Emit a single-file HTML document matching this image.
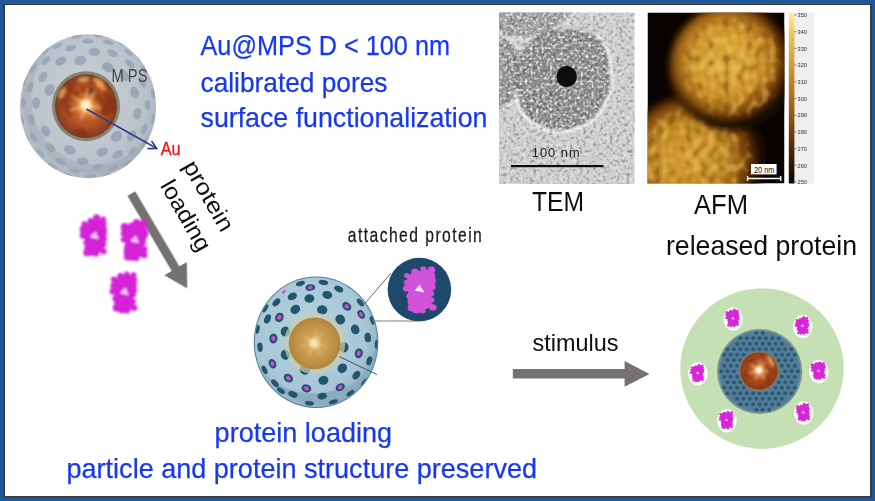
<!DOCTYPE html>
<html>
<head>
<meta charset="utf-8">
<title>Au@MPS protein loading</title>
<style>
html,body{margin:0;padding:0;background:#1f579b;}
body{width:875px;height:501px;overflow:hidden;font-family:"Liberation Sans",sans-serif;}
svg{display:block;}
text{font-family:"Liberation Sans",sans-serif;}
</style>
</head>
<body>
<svg width="875" height="501" viewBox="0 0 875 501">
<defs>
  <filter id="soft" x="-5%" y="-5%" width="110%" height="110%"><feGaussianBlur stdDeviation="0.45"/></filter>

  <filter id="soft2" x="-5%" y="-5%" width="110%" height="110%"><feGaussianBlur stdDeviation="0.6"/></filter>
  <filter id="pblur" x="-20%" y="-20%" width="140%" height="140%"><feGaussianBlur stdDeviation="1.15"/></filter>
  <filter id="temblur" x="-10%" y="-10%" width="120%" height="120%"><feGaussianBlur stdDeviation="1.0"/></filter>
  <filter id="afmblur" x="-10%" y="-10%" width="120%" height="120%"><feGaussianBlur stdDeviation="3.2"/></filter>
  <filter id="tnb" x="0" y="0" width="100%" height="100%"><feGaussianBlur stdDeviation="0.75"/></filter>
  <filter id="temW" x="0" y="0" width="100%" height="100%" color-interpolation-filters="sRGB">
    <feTurbulence type="fractalNoise" baseFrequency="0.3" numOctaves="2" seed="4"/>
    <feColorMatrix type="matrix" values="0 0 0 0 1  0 0 0 0 1  0 0 0 0 1  1.6 0 0 0 -0.8"/>
  </filter>
  <filter id="temD" x="0" y="0" width="100%" height="100%" color-interpolation-filters="sRGB">
    <feTurbulence type="fractalNoise" baseFrequency="0.3" numOctaves="2" seed="4"/>
    <feColorMatrix type="matrix" values="0 0 0 0 0.1  0 0 0 0 0.1  0 0 0 0 0.1  -1.4 0 0 0 0.62"/>
  </filter>
  <filter id="temW2" x="0" y="0" width="100%" height="100%" color-interpolation-filters="sRGB">
    <feTurbulence type="fractalNoise" baseFrequency="0.36" numOctaves="1" seed="11"/>
    <feColorMatrix type="matrix" values="0 0 0 0 1  0 0 0 0 1  0 0 0 0 1  3.4 0 0 0 -1.74"/>
  </filter>
  <filter id="afmtex" x="0" y="0" width="100%" height="100%" color-interpolation-filters="sRGB">
    <feTurbulence type="fractalNoise" baseFrequency="0.13 0.11" numOctaves="1" seed="9"/>
    <feColorMatrix type="matrix" values="0 0 0 0 1  0 0 0 0 0.82  0 0 0 0 0.42  4.5 0 0 0 -2.15"/>
    <feGaussianBlur stdDeviation="0.7"/>
  </filter>
  <filter id="afmtexD" x="0" y="0" width="100%" height="100%" color-interpolation-filters="sRGB">
    <feTurbulence type="fractalNoise" baseFrequency="0.13 0.11" numOctaves="1" seed="9"/>
    <feColorMatrix type="matrix" values="0 0 0 0 0.35  0 0 0 0 0.18  0 0 0 0 0.02  -4.5 0 0 0 2.0"/>
    <feGaussianBlur stdDeviation="0.7"/>
  </filter>
  <mask id="afmmask1" maskUnits="userSpaceOnUse" x="640" y="5" width="150" height="185">
    <g filter="url(#afmblur)"><ellipse cx="732.5" cy="67.5" rx="49" ry="49" fill="#fff"/></g>
  </mask>
  <mask id="afmmask2" maskUnits="userSpaceOnUse" x="640" y="5" width="150" height="185">
    <g filter="url(#afmblur)"><ellipse cx="695" cy="160" rx="57" ry="52" fill="#fff"/></g>
  </mask>
  <clipPath id="temclip"><rect x="499" y="12.5" width="135.5" height="171.5"/></clipPath>
  <clipPath id="afmclip"><rect x="647.5" y="12.5" width="137" height="171"/></clipPath>
  <clipPath id="p1clip"><ellipse cx="88" cy="106.2" rx="68" ry="72"/></clipPath>
  <clipPath id="p1coreclip"><ellipse cx="86" cy="106.2" rx="31" ry="32"/></clipPath>
  <filter id="coreblur" x="-10%" y="-10%" width="120%" height="120%"><feGaussianBlur stdDeviation="1.4"/></filter>
  <clipPath id="p2clip"><ellipse cx="316.1" cy="342.2" rx="61.3" ry="64.8"/></clipPath>
  <clipPath id="p3coreclip"><circle cx="758.9" cy="371" r="18.6"/></clipPath>
  <clipPath id="p2coreclip"><circle cx="314.6" cy="343.4" r="25.8"/></clipPath>
  <radialGradient id="p1g" cx="0.48" cy="0.45" r="0.55">
    <stop offset="0" stop-color="#c9cfd5"/><stop offset="0.75" stop-color="#bcc4cb"/><stop offset="1" stop-color="#adb6c0"/>
  </radialGradient>
  <radialGradient id="p1core" cx="0.5" cy="0.5" r="0.5">
    <stop offset="0" stop-color="#fff0c8"/><stop offset="0.14" stop-color="#eeaa5c"/><stop offset="0.36" stop-color="#c8632c"/><stop offset="0.72" stop-color="#aa4a20"/><stop offset="1" stop-color="#7c3c22"/>
  </radialGradient>
  <radialGradient id="p2g" cx="0.45" cy="0.42" r="0.6">
    <stop offset="0" stop-color="#b7d2e0"/><stop offset="0.75" stop-color="#a8c6d6"/><stop offset="1" stop-color="#8db0c3"/>
  </radialGradient>
  <radialGradient id="p2core" cx="0.5" cy="0.5" r="0.5">
    <stop offset="0" stop-color="#efdcb0"/><stop offset="0.3" stop-color="#cfa358"/><stop offset="0.75" stop-color="#c09146"/><stop offset="1" stop-color="#ad8440"/>
  </radialGradient>
  <radialGradient id="p3core" cx="0.5" cy="0.5" r="0.5">
    <stop offset="0" stop-color="#ffe9c0"/><stop offset="0.16" stop-color="#d8803c"/><stop offset="0.5" stop-color="#b04c1e"/><stop offset="1" stop-color="#8e3c18"/>
  </radialGradient>
  <radialGradient id="afmg1" cx="0.45" cy="0.45" r="0.5">
    <stop offset="0" stop-color="#dca83a"/><stop offset="0.5" stop-color="#cf982f"/><stop offset="0.74" stop-color="#a86c18"/><stop offset="0.9" stop-color="#552a05"/><stop offset="1" stop-color="#140700"/>
  </radialGradient>
  <radialGradient id="afmg2" cx="0.45" cy="0.5" r="0.5">
    <stop offset="0" stop-color="#d39c34"/><stop offset="0.5" stop-color="#c28a26"/><stop offset="0.74" stop-color="#965c12"/><stop offset="0.9" stop-color="#4a2404"/><stop offset="1" stop-color="#140700"/>
  </radialGradient>
  <linearGradient id="cbar" x1="0" y1="0" x2="0" y2="1">
    <stop offset="0" stop-color="#fbf0a0"/><stop offset="0.12" stop-color="#e9c85a"/><stop offset="0.35" stop-color="#c99229"/><stop offset="0.6" stop-color="#95590f"/><stop offset="0.8" stop-color="#4f2704"/><stop offset="1" stop-color="#0c0400"/>
  </linearGradient>
</defs>

<!-- FRAME -->
<rect x="0" y="0" width="875" height="501" fill="#1f579b"/>
<rect x="3" y="4" width="869" height="493.5" fill="#3f3b39"/>
<rect x="5" y="5" width="865" height="491" fill="#ffffff"/>

<!-- TEXT-BLUE -->
<g fill="#1838f4" stroke="#1838f4" stroke-width="0.25" font-size="27.5" filter="url(#soft)">
  <text x="200.5" y="54.5" textLength="249.5" lengthAdjust="spacingAndGlyphs">Au@MPS D &lt; 100 nm</text>
  <text x="200.5" y="91.6" font-size="28" textLength="187" lengthAdjust="spacingAndGlyphs">calibrated pores</text>
  <text x="200.5" y="127.2" font-size="28" textLength="287" lengthAdjust="spacingAndGlyphs">surface functionalization</text>
  <text x="214.6" y="442" textLength="177.5" lengthAdjust="spacingAndGlyphs" font-size="27.6">protein loading</text>
  <text x="66.5" y="478.4" textLength="470.5" lengthAdjust="spacingAndGlyphs" font-size="27.6">particle and protein structure preserved</text>
</g>

<!-- TEXT-BLACK -->
<g fill="#111" filter="url(#soft)">
  <text x="532" y="211" font-size="28" textLength="52" lengthAdjust="spacingAndGlyphs">TEM</text>
  <text x="694" y="214" font-size="28" textLength="54" lengthAdjust="spacingAndGlyphs">AFM</text>
  <text x="666" y="254.5" font-size="27.5" textLength="191" lengthAdjust="spacingAndGlyphs">released protein</text>
  <text x="532.6" y="351.2" font-size="23.2" textLength="86" lengthAdjust="spacingAndGlyphs">stimulus</text>
  <text transform="translate(347.8,241.6) scale(0.8,1)" font-size="19.6" fill="#1a1a1a" stroke="#1a1a1a" stroke-width="0.25" textLength="167.5" lengthAdjust="spacing">attached protein</text>
</g>

<!-- ARROWS -->
<g fill="#767171" filter="url(#soft)">
  <path d="M512.8 369 H624.6 V361 L649.5 374 L624.6 386.8 V378.6 H512.8 Z"/>
  <g transform="translate(131.4,193.7) rotate(59.5)">
    <path d="M0 -4.5 H87 V-13 L110 0 L87 13 V4.5 H0 Z"/>
  </g>
</g>

<!-- ROTATED-TEXT -->
<g fill="#111" font-size="23" filter="url(#soft)">
  <text transform="translate(182.5,165.9) rotate(60)" textLength="78" lengthAdjust="spacingAndGlyphs">protein</text>
  <text transform="translate(159.8,185.6) rotate(60)" textLength="78" lengthAdjust="spacingAndGlyphs">loading</text>
</g>

<!-- PARTICLE1 -->

<g filter="url(#soft2)">
  <ellipse cx="88.0" cy="106.2" rx="68" ry="72" fill="url(#p1g)"/>
  <g clip-path="url(#p1clip)">
  <ellipse cx="80.3" cy="60.5" rx="4.7" ry="6.0" transform="rotate(-100 80.3 60.5)" fill="#9ba8ba" opacity="1.0"/>
<ellipse cx="49.6" cy="90.0" rx="4.9" ry="6.1" transform="rotate(-158 49.6 90.0)" fill="#9ba8ba" opacity="1.0"/>
<ellipse cx="107.9" cy="67.4" rx="4.8" ry="6.1" transform="rotate(-62 107.9 67.4)" fill="#9ba8ba" opacity="1.0"/>
<ellipse cx="60.8" cy="61.1" rx="4.0" ry="5.9" transform="rotate(-122 60.8 61.1)" fill="#9ba8ba" opacity="1.0"/>
<ellipse cx="94.4" cy="51.9" rx="3.9" ry="5.9" transform="rotate(-83 94.4 51.9)" fill="#9ba8ba" opacity="1.0"/>
<ellipse cx="42.9" cy="76.8" rx="3.8" ry="5.8" transform="rotate(-148 42.9 76.8)" fill="#9ba8ba" opacity="1.0"/>
<ellipse cx="123.9" cy="75.6" rx="4.5" ry="6.0" transform="rotate(-39 123.9 75.6)" fill="#9ba8ba" opacity="1.0"/>
<ellipse cx="70.6" cy="48.1" rx="3.1" ry="5.7" transform="rotate(-107 70.6 48.1)" fill="#9ba8ba" opacity="1.0"/>
<ellipse cx="36.1" cy="103.1" rx="3.9" ry="5.9" transform="rotate(-177 36.1 103.1)" fill="#9ba8ba" opacity="1.0"/>
<ellipse cx="112.5" cy="53.2" rx="3.4" ry="5.7" transform="rotate(-64 112.5 53.2)" fill="#9ba8ba" opacity="1.0"/>
<ellipse cx="45.9" cy="60.6" rx="2.8" ry="5.6" transform="rotate(-134 45.9 60.6)" fill="#9ba8ba" opacity="1.0"/>
<ellipse cx="134.6" cy="92.3" rx="4.3" ry="6.0" transform="rotate(-16 134.6 92.3)" fill="#9ba8ba" opacity="1.0"/>
<ellipse cx="45.5" cy="131.0" rx="4.3" ry="5.9" transform="rotate(151 45.5 131.0)" fill="#9ba8ba" opacity="1.0"/>
<ellipse cx="87.8" cy="41.2" rx="2.5" ry="5.5" transform="rotate(-90 87.8 41.2)" fill="#9ba8ba" opacity="1.0"/>
<ellipse cx="116.5" cy="136.4" rx="5.0" ry="6.1" transform="rotate(46 116.5 136.4)" fill="#9ba8ba" opacity="1.0"/>
<ellipse cx="30.4" cy="87.1" rx="2.8" ry="5.6" transform="rotate(-162 30.4 87.1)" fill="#9ba8ba" opacity="1.0"/>
<ellipse cx="129.8" cy="63.8" rx="3.1" ry="5.7" transform="rotate(-44 129.8 63.8)" fill="#9ba8ba" opacity="1.0"/>
<ellipse cx="69.9" cy="149.9" rx="4.5" ry="6.0" transform="rotate(113 69.9 149.9)" fill="#9ba8ba" opacity="1.0"/>
<ellipse cx="57.7" cy="46.0" rx="1.9" ry="5.4" transform="rotate(-118 57.7 46.0)" fill="#9ba8ba" opacity="1.0"/>
<ellipse cx="137.4" cy="113.6" rx="4.1" ry="5.9" transform="rotate(8 137.4 113.6)" fill="#9ba8ba" opacity="1.0"/>
<ellipse cx="31.4" cy="119.8" rx="3.2" ry="5.7" transform="rotate(167 31.4 119.8)" fill="#9ba8ba" opacity="1.0"/>
<ellipse cx="108.3" cy="42.3" rx="2.1" ry="5.4" transform="rotate(-72 108.3 42.3)" fill="#9ba8ba" opacity="1.0"/>
<ellipse cx="102.2" cy="152.2" rx="4.5" ry="6.0" transform="rotate(72 102.2 152.2)" fill="#9ba8ba" opacity="1.0"/>
<ellipse cx="33.2" cy="68.4" rx="1.9" ry="5.3" transform="rotate(-146 33.2 68.4)" fill="#9ba8ba" opacity="1.0"/>
<ellipse cx="142.4" cy="82.0" rx="3.0" ry="5.7" transform="rotate(-23 142.4 82.0)" fill="#9ba8ba" opacity="1.0"/>
<ellipse cx="50.5" cy="147.8" rx="3.6" ry="5.8" transform="rotate(133 50.5 147.8)" fill="#9ba8ba" opacity="1.0"/>
<ellipse cx="76.4" cy="36.8" rx="1.8" ry="5.2" transform="rotate(-100 76.4 36.8)" fill="#9ba8ba" opacity="1.0"/>
<ellipse cx="131.6" cy="135.7" rx="3.9" ry="5.9" transform="rotate(33 131.6 135.7)" fill="#9ba8ba" opacity="1.0"/>
<ellipse cx="23.5" cy="102.3" rx="2.1" ry="5.4" transform="rotate(-177 23.5 102.3)" fill="#9ba8ba" opacity="1.0"/>
<ellipse cx="128.4" cy="52.3" rx="1.9" ry="5.4" transform="rotate(-52 128.4 52.3)" fill="#9ba8ba" opacity="1.0"/>
<ellipse cx="82.6" cy="161.2" rx="3.8" ry="5.8" transform="rotate(96 82.6 161.2)" fill="#9ba8ba" opacity="1.0"/>
<ellipse cx="44.5" cy="51.0" rx="1.8" ry="5.1" transform="rotate(-129 44.5 51.0)" fill="#9ba8ba" opacity="1.0"/>
<ellipse cx="147.7" cy="105.0" rx="2.9" ry="5.6" transform="rotate(-1 147.7 105.0)" fill="#9ba8ba" opacity="1.0"/>
<ellipse cx="33.4" cy="137.2" rx="2.5" ry="5.5" transform="rotate(151 33.4 137.2)" fill="#9ba8ba" opacity="1.0"/>
<ellipse cx="98.8" cy="35.5" rx="1.8" ry="5.1" transform="rotate(-81 98.8 35.5)" fill="#9ba8ba" opacity="1.0"/>
<ellipse cx="117.7" cy="154.5" rx="3.6" ry="5.8" transform="rotate(57 117.7 154.5)" fill="#9ba8ba" opacity="1.0"/>
<ellipse cx="23.8" cy="81.6" rx="1.8" ry="5.1" transform="rotate(-160 23.8 81.6)" fill="#9ba8ba" opacity="1.0"/>
<ellipse cx="144.2" cy="70.1" rx="1.9" ry="5.3" transform="rotate(-32 144.2 70.1)" fill="#9ba8ba" opacity="1.0"/>
<ellipse cx="60.9" cy="161.6" rx="2.9" ry="5.6" transform="rotate(117 60.9 161.6)" fill="#9ba8ba" opacity="1.0"/>
<ellipse cx="144.3" cy="129.4" rx="2.8" ry="5.6" transform="rotate(22 144.3 129.4)" fill="#9ba8ba" opacity="1.0"/>
<ellipse cx="22.1" cy="119.7" rx="1.8" ry="5.2" transform="rotate(169 22.1 119.7)" fill="#9ba8ba" opacity="1.0"/>
<ellipse cx="121.4" cy="43.0" rx="1.8" ry="5.0" transform="rotate(-61 121.4 43.0)" fill="#9ba8ba" opacity="1.0"/>
<ellipse cx="97.8" cy="167.1" rx="3.0" ry="5.6" transform="rotate(80 97.8 167.1)" fill="#9ba8ba" opacity="1.0"/>
<ellipse cx="153.1" cy="93.6" rx="1.9" ry="5.3" transform="rotate(-11 153.1 93.6)" fill="#9ba8ba" opacity="1.0"/>
<ellipse cx="40.9" cy="153.2" rx="1.9" ry="5.4" transform="rotate(136 40.9 153.2)" fill="#9ba8ba" opacity="1.0"/>
<ellipse cx="132.4" cy="151.4" rx="2.6" ry="5.5" transform="rotate(44 132.4 151.4)" fill="#9ba8ba" opacity="1.0"/>
<ellipse cx="140.6" cy="59.0" rx="1.7" ry="5.0" transform="rotate(-41 140.6 59.0)" fill="#9ba8ba" opacity="1.0"/>
<ellipse cx="75.0" cy="171.2" rx="2.2" ry="5.5" transform="rotate(102 75.0 171.2)" fill="#9ba8ba" opacity="1.0"/>
<ellipse cx="153.2" cy="119.3" rx="1.9" ry="5.3" transform="rotate(11 153.2 119.3)" fill="#9ba8ba" opacity="1.0"/>
<ellipse cx="26.0" cy="137.2" rx="1.8" ry="5.1" transform="rotate(154 26.0 137.2)" fill="#9ba8ba" opacity="1.0"/>
<ellipse cx="113.6" cy="167.6" rx="2.1" ry="5.4" transform="rotate(67 113.6 167.6)" fill="#9ba8ba" opacity="1.0"/>
<ellipse cx="153.3" cy="81.4" rx="1.7" ry="5.0" transform="rotate(-20 153.3 81.4)" fill="#9ba8ba" opacity="1.0"/>
<ellipse cx="52.8" cy="166.2" rx="1.8" ry="5.2" transform="rotate(121 52.8 166.2)" fill="#9ba8ba" opacity="1.0"/>
<ellipse cx="144.5" cy="143.7" rx="1.8" ry="5.3" transform="rotate(33 144.5 143.7)" fill="#9ba8ba" opacity="1.0"/>
<ellipse cx="90.8" cy="175.9" rx="1.8" ry="5.3" transform="rotate(88 90.8 175.9)" fill="#9ba8ba" opacity="1.0"/>
<ellipse cx="157.5" cy="107.3" rx="1.7" ry="5.0" transform="rotate(1 157.5 107.3)" fill="#9ba8ba" opacity="1.0"/>
<ellipse cx="128.1" cy="163.4" rx="1.8" ry="5.2" transform="rotate(54 128.1 163.4)" fill="#9ba8ba" opacity="1.0"/>
<ellipse cx="67.5" cy="174.9" rx="1.8" ry="5.0" transform="rotate(107 67.5 174.9)" fill="#9ba8ba" opacity="1.0"/>
<ellipse cx="106.7" cy="175.6" rx="1.8" ry="5.0" transform="rotate(74 106.7 175.6)" fill="#9ba8ba" opacity="1.0"/>
  <ellipse cx="95.0" cy="97.2" rx="68" ry="72" fill="none" stroke="#98a2ad" stroke-width="9" opacity="0.35"/>
  </g>
  <ellipse cx="86" cy="106.2" rx="34" ry="35" fill="#868371"/>
  <ellipse cx="86" cy="106.2" rx="31" ry="32" fill="url(#p1core)"/>
  <g clip-path="url(#p1coreclip)" filter="url(#coreblur)">
    <ellipse cx="68.6" cy="89.2" rx="6.8" ry="3.7" transform="rotate(314 68.6 89.2)" fill="#7a2a0c" opacity="0.55"/><ellipse cx="93.6" cy="80.2" rx="6.8" ry="3.7" transform="rotate(376 93.6 80.2)" fill="#7a2a0c" opacity="0.55"/><ellipse cx="84.3" cy="79.4" rx="6.8" ry="3.7" transform="rotate(356 84.3 79.4)" fill="#7a2a0c" opacity="0.55"/><ellipse cx="106.1" cy="109.9" rx="6.8" ry="3.7" transform="rotate(100 106.1 109.9)" fill="#7a2a0c" opacity="0.55"/><ellipse cx="107.6" cy="98.2" rx="6.8" ry="3.7" transform="rotate(430 107.6 98.2)" fill="#7a2a0c" opacity="0.55"/><ellipse cx="98.6" cy="97.1" rx="6.8" ry="3.7" transform="rotate(414 98.6 97.1)" fill="#7a2a0c" opacity="0.55"/><ellipse cx="68.9" cy="109.6" rx="6.8" ry="3.7" transform="rotate(259 68.9 109.6)" fill="#7a2a0c" opacity="0.55"/><ellipse cx="64.9" cy="100.2" rx="6.8" ry="3.7" transform="rotate(286 64.9 100.2)" fill="#7a2a0c" opacity="0.55"/><ellipse cx="102.9" cy="107.6" rx="6.8" ry="3.7" transform="rotate(95 102.9 107.6)" fill="#7a2a0c" opacity="0.55"/><ellipse cx="81.1" cy="132.5" rx="6.8" ry="3.7" transform="rotate(191 81.1 132.5)" fill="#7a2a0c" opacity="0.55"/><ellipse cx="87.6" cy="90.1" rx="6.8" ry="3.7" transform="rotate(366 87.6 90.1)" fill="#7a2a0c" opacity="0.55"/><ellipse cx="90.6" cy="91.0" rx="6.8" ry="3.7" transform="rotate(377 90.6 91.0)" fill="#7a2a0c" opacity="0.55"/><ellipse cx="74.4" cy="95.6" rx="6.8" ry="3.7" transform="rotate(312 74.4 95.6)" fill="#7a2a0c" opacity="0.55"/><ellipse cx="112.1" cy="106.5" rx="6.8" ry="3.7" transform="rotate(91 112.1 106.5)" fill="#7a2a0c" opacity="0.55"/><ellipse cx="100.9" cy="86.1" rx="6.2" ry="2.8" transform="rotate(37 100.9 86.1)" fill="#f6b060" opacity="0.75"/><ellipse cx="62.1" cy="92.8" rx="6.2" ry="2.8" transform="rotate(-61 62.1 92.8)" fill="#f6b060" opacity="0.75"/><ellipse cx="98.4" cy="81.4" rx="6.2" ry="2.8" transform="rotate(27 98.4 81.4)" fill="#f6b060" opacity="0.75"/><ellipse cx="83.7" cy="79.6" rx="6.2" ry="2.8" transform="rotate(-5 83.7 79.6)" fill="#f6b060" opacity="0.75"/>
    <g stroke="#ffd98a" stroke-width="2" opacity="0.6" stroke-linecap="round">
      <path d="M86 105 l-13 -8 M86 105 l9 -13 M86 105 l14 3 M86 105 l-5 14 M86 105 l-15 5 M86 105 l1 -16 M86 105 l8 12"/>
    </g>
    <circle cx="85.8" cy="104.9" r="5" fill="#fff3c8"/>
  </g>
</g>
<g filter="url(#soft)">
  <path d="M86.4 109 L156 148" stroke="#2b3f8c" stroke-width="1.6" fill="none"/>
  <path d="M147.5 148.6 L156.7 148.4 L151.5 141" stroke="#2b3f8c" stroke-width="1.6" fill="none"/>
  <text x="111.5" y="82" font-size="17.8" fill="#444" textLength="36" lengthAdjust="spacingAndGlyphs">M PS</text>
  <text x="160.8" y="154.8" font-size="19.2" fill="#fa1212" stroke="#fa1212" stroke-width="0.35" textLength="19.8" lengthAdjust="spacingAndGlyphs">Au</text>
</g>

<!-- PROTEINS -->
<g filter="url(#pblur)"><polygon points="83.8,223.7 90.5,221.1 96.3,218.4 102.9,219.3 103.8,229.1 102.9,238.9 103.8,251.3 96.3,254.0 87.2,252.2 86.3,242.4 83.0,235.3" fill="#d422d6"/><circle cx="84.2" cy="224.1" r="2.8" fill="#d422d6"/><circle cx="90.5" cy="221.0" r="3.0" fill="#d422d6"/><circle cx="96.6" cy="217.9" r="3.6" fill="#d422d6"/><circle cx="103.3" cy="219.2" r="2.7" fill="#d422d6"/><circle cx="102.8" cy="224.1" r="3.8" fill="#d422d6"/><circle cx="103.4" cy="229.6" r="3.7" fill="#d422d6"/><circle cx="102.8" cy="233.4" r="4.0" fill="#d422d6"/><circle cx="103.5" cy="238.7" r="3.4" fill="#d422d6"/><circle cx="103.3" cy="244.5" r="3.0" fill="#d422d6"/><circle cx="103.7" cy="251.3" r="3.0" fill="#d422d6"/><circle cx="96.0" cy="253.7" r="3.0" fill="#d422d6"/><circle cx="91.5" cy="252.5" r="3.3" fill="#d422d6"/><circle cx="87.2" cy="252.4" r="3.9" fill="#d422d6"/><circle cx="87.3" cy="247.8" r="2.9" fill="#d422d6"/><circle cx="86.1" cy="242.7" r="2.8" fill="#d422d6"/><circle cx="83.5" cy="235.2" r="3.7" fill="#d422d6"/><circle cx="83.6" cy="229.3" r="3.9" fill="#d422d6"/><polygon points="90.0,236.9 95.4,231.5 98.8,239.3 94.1,238.3" fill="#f9d0f5"/></g>
<g filter="url(#pblur)"><polygon points="124.2,227.7 130.9,225.1 136.7,222.4 143.3,223.3 144.2,233.1 143.3,242.9 144.2,255.3 136.7,258.0 127.6,256.2 126.7,246.4 123.4,239.3" fill="#d422d6"/><circle cx="124.8" cy="227.2" r="4.1" fill="#d422d6"/><circle cx="131.3" cy="225.4" r="2.8" fill="#d422d6"/><circle cx="136.5" cy="222.5" r="3.6" fill="#d422d6"/><circle cx="143.4" cy="222.9" r="3.5" fill="#d422d6"/><circle cx="143.6" cy="228.5" r="3.3" fill="#d422d6"/><circle cx="144.7" cy="233.1" r="4.1" fill="#d422d6"/><circle cx="143.5" cy="237.4" r="3.3" fill="#d422d6"/><circle cx="143.3" cy="242.7" r="2.7" fill="#d422d6"/><circle cx="144.2" cy="249.1" r="3.2" fill="#d422d6"/><circle cx="143.9" cy="254.8" r="3.5" fill="#d422d6"/><circle cx="136.3" cy="258.0" r="3.1" fill="#d422d6"/><circle cx="132.3" cy="256.7" r="4.1" fill="#d422d6"/><circle cx="127.9" cy="256.5" r="4.0" fill="#d422d6"/><circle cx="127.5" cy="251.7" r="4.0" fill="#d422d6"/><circle cx="127.3" cy="247.0" r="3.2" fill="#d422d6"/><circle cx="123.7" cy="239.6" r="2.9" fill="#d422d6"/><circle cx="123.9" cy="233.5" r="3.3" fill="#d422d6"/><polygon points="130.4,240.9 135.8,235.5 139.2,243.3 134.5,242.3" fill="#f9d0f5"/></g>
<g filter="url(#pblur)"><polygon points="113.8,279.7 120.5,277.1 126.3,274.4 132.9,275.3 133.8,285.1 132.9,294.9 133.8,307.3 126.3,310.0 117.2,308.2 116.3,298.4 113.0,291.3" fill="#d422d6"/><circle cx="113.9" cy="279.6" r="3.0" fill="#d422d6"/><circle cx="120.6" cy="276.5" r="3.5" fill="#d422d6"/><circle cx="126.7" cy="274.1" r="2.7" fill="#d422d6"/><circle cx="133.5" cy="275.3" r="3.0" fill="#d422d6"/><circle cx="133.3" cy="280.4" r="3.9" fill="#d422d6"/><circle cx="133.9" cy="285.5" r="2.9" fill="#d422d6"/><circle cx="133.6" cy="290.2" r="3.4" fill="#d422d6"/><circle cx="133.2" cy="295.0" r="2.7" fill="#d422d6"/><circle cx="132.8" cy="301.5" r="3.1" fill="#d422d6"/><circle cx="134.0" cy="307.8" r="3.3" fill="#d422d6"/><circle cx="126.8" cy="309.9" r="3.7" fill="#d422d6"/><circle cx="121.7" cy="309.6" r="3.8" fill="#d422d6"/><circle cx="116.7" cy="307.8" r="3.9" fill="#d422d6"/><circle cx="117.3" cy="303.2" r="3.0" fill="#d422d6"/><circle cx="116.1" cy="298.4" r="3.6" fill="#d422d6"/><circle cx="112.8" cy="291.4" r="3.2" fill="#d422d6"/><circle cx="113.9" cy="285.7" r="3.5" fill="#d422d6"/><polygon points="120.0,292.9 125.4,287.5 128.8,295.3 124.1,294.3" fill="#f9d0f5"/></g>
<!-- PARTICLE2 -->

<g filter="url(#soft2)">
  <ellipse cx="316.1" cy="342.2" rx="62.3" ry="65.8" fill="#4f7f96"/>
  <ellipse cx="316.1" cy="342.2" rx="61.3" ry="64.8" fill="url(#p2g)"/>
  <g clip-path="url(#p2clip)">
  <path d="M262 372 Q300 408 352 384 Q380 366 376 318 Q392 372 350 398 Q300 420 262 372 Z" fill="#86a9bb" opacity="0.8"/>
  <ellipse cx="283.9" cy="291.9" rx="1.3" ry="2.3" transform="rotate(-124 283.9 291.9)" fill="#d649e2"/><ellipse cx="300.4" cy="283.6" rx="2.4" ry="4.6" transform="rotate(-106 300.4 283.6)" fill="#23566e"/><ellipse cx="310.3" cy="287.5" rx="3.3" ry="4.8" transform="rotate(-96 310.3 287.5)" fill="#23566e"/><ellipse cx="310.3" cy="287.5" rx="1.6" ry="2.4" transform="rotate(-96 310.3 287.5)" fill="#d649e2"/><ellipse cx="323.4" cy="282.4" rx="2.5" ry="4.7" transform="rotate(-83 323.4 282.4)" fill="#23566e"/><ellipse cx="338.7" cy="289.0" rx="2.9" ry="4.7" transform="rotate(-66 338.7 289.0)" fill="#23566e"/><ellipse cx="349.8" cy="286.0" rx="2.0" ry="4.5" transform="rotate(-58 349.8 286.0)" fill="#23566e"/><ellipse cx="276.4" cy="302.4" rx="2.9" ry="4.7" transform="rotate(-136 276.4 302.4)" fill="#23566e"/><ellipse cx="292.3" cy="296.4" rx="3.6" ry="4.9" transform="rotate(-119 292.3 296.4)" fill="#23566e"/><ellipse cx="309.4" cy="298.5" rx="4.2" ry="5.0" transform="rotate(-99 309.4 298.5)" fill="#23566e"/><ellipse cx="327.3" cy="294.9" rx="3.9" ry="5.0" transform="rotate(-76 327.3 294.9)" fill="#23566e"/><ellipse cx="346.8" cy="306.3" rx="3.9" ry="5.0" transform="rotate(-48 346.8 306.3)" fill="#23566e"/><ellipse cx="346.8" cy="306.3" rx="1.9" ry="2.5" transform="rotate(-48 346.8 306.3)" fill="#d649e2"/><ellipse cx="360.3" cy="302.4" rx="2.4" ry="4.6" transform="rotate(-40 360.3 302.4)" fill="#23566e"/><ellipse cx="265.4" cy="308.4" rx="2.0" ry="4.5" transform="rotate(-148 265.4 308.4)" fill="#23566e"/><ellipse cx="279.4" cy="317.4" rx="4.1" ry="5.0" transform="rotate(-147 279.4 317.4)" fill="#23566e"/><ellipse cx="279.4" cy="317.4" rx="2.0" ry="2.5" transform="rotate(-147 279.4 317.4)" fill="#d649e2"/><ellipse cx="295.3" cy="309.3" rx="4.4" ry="5.1" transform="rotate(-124 295.3 309.3)" fill="#23566e"/><ellipse cx="322.2" cy="309.9" rx="4.7" ry="5.2" transform="rotate(-79 322.2 309.9)" fill="#23566e"/><ellipse cx="340.2" cy="319.5" rx="4.7" ry="5.1" transform="rotate(-42 340.2 319.5)" fill="#23566e"/><ellipse cx="361.2" cy="314.4" rx="3.3" ry="4.8" transform="rotate(-30 361.2 314.4)" fill="#23566e"/><ellipse cx="361.2" cy="314.4" rx="1.6" ry="2.4" transform="rotate(-30 361.2 314.4)" fill="#d649e2"/><ellipse cx="372.2" cy="320.4" rx="2.0" ry="4.5" transform="rotate(-20 372.2 320.4)" fill="#23566e"/><ellipse cx="257.6" cy="329.4" rx="2.0" ry="4.5" transform="rotate(-168 257.6 329.4)" fill="#23566e"/><ellipse cx="273.4" cy="338.4" rx="4.1" ry="5.0" transform="rotate(-175 273.4 338.4)" fill="#23566e"/><ellipse cx="273.4" cy="338.4" rx="2.1" ry="2.5" transform="rotate(-175 273.4 338.4)" fill="#d649e2"/><ellipse cx="285.4" cy="331.5" rx="4.7" ry="5.1" transform="rotate(-162 285.4 331.5)" fill="#23566e"/><ellipse cx="355.2" cy="329.4" rx="4.2" ry="5.0" transform="rotate(-17 355.2 329.4)" fill="#23566e"/><ellipse cx="367.8" cy="337.5" rx="3.3" ry="4.8" transform="rotate(-5 367.8 337.5)" fill="#23566e"/><ellipse cx="376.7" cy="344.3" rx="2.0" ry="4.5" transform="rotate(2 376.7 344.3)" fill="#23566e"/><ellipse cx="260.0" cy="347.3" rx="2.7" ry="4.7" transform="rotate(175 260.0 347.3)" fill="#23566e"/><ellipse cx="285.4" cy="354.8" rx="4.6" ry="5.1" transform="rotate(159 285.4 354.8)" fill="#23566e"/><ellipse cx="343.8" cy="347.3" rx="4.8" ry="5.2" transform="rotate(10 343.8 347.3)" fill="#23566e"/><ellipse cx="358.8" cy="353.3" rx="4.0" ry="5.0" transform="rotate(14 358.8 353.3)" fill="#23566e"/><ellipse cx="358.8" cy="353.3" rx="2.0" ry="2.5" transform="rotate(14 358.8 353.3)" fill="#d649e2"/><ellipse cx="369.3" cy="360.8" rx="2.7" ry="4.7" transform="rotate(18 369.3 360.8)" fill="#23566e"/><ellipse cx="264.5" cy="369.8" rx="2.4" ry="4.6" transform="rotate(153 264.5 369.8)" fill="#23566e"/><ellipse cx="272.5" cy="363.8" rx="3.7" ry="4.9" transform="rotate(155 272.5 363.8)" fill="#23566e"/><ellipse cx="272.5" cy="363.8" rx="1.8" ry="2.5" transform="rotate(155 272.5 363.8)" fill="#d649e2"/><ellipse cx="304.9" cy="369.8" rx="4.8" ry="5.2" transform="rotate(113 304.9 369.8)" fill="#23566e"/><ellipse cx="342.3" cy="368.3" rx="4.5" ry="5.1" transform="rotate(43 342.3 368.3)" fill="#23566e"/><ellipse cx="356.4" cy="375.2" rx="3.4" ry="4.8" transform="rotate(38 356.4 375.2)" fill="#23566e"/><ellipse cx="364.2" cy="382.4" rx="2.0" ry="4.5" transform="rotate(38 364.2 382.4)" fill="#23566e"/><ellipse cx="274.9" cy="383.3" rx="2.6" ry="4.7" transform="rotate(137 274.9 383.3)" fill="#23566e"/><ellipse cx="288.4" cy="378.2" rx="4.0" ry="5.0" transform="rotate(129 288.4 378.2)" fill="#23566e"/><ellipse cx="288.4" cy="378.2" rx="2.0" ry="2.5" transform="rotate(129 288.4 378.2)" fill="#d649e2"/><ellipse cx="323.4" cy="380.3" rx="4.5" ry="5.1" transform="rotate(78 323.4 380.3)" fill="#23566e"/><ellipse cx="340.2" cy="387.2" rx="3.6" ry="4.9" transform="rotate(60 340.2 387.2)" fill="#23566e"/><ellipse cx="340.2" cy="387.2" rx="1.8" ry="2.4" transform="rotate(60 340.2 387.2)" fill="#d649e2"/><ellipse cx="350.4" cy="393.1" rx="2.1" ry="4.6" transform="rotate(55 350.4 393.1)" fill="#23566e"/><ellipse cx="292.9" cy="394.3" rx="3.0" ry="4.8" transform="rotate(115 292.9 394.3)" fill="#23566e"/><ellipse cx="306.4" cy="388.4" rx="4.0" ry="5.0" transform="rotate(103 306.4 388.4)" fill="#23566e"/><ellipse cx="306.4" cy="388.4" rx="2.0" ry="2.5" transform="rotate(103 306.4 388.4)" fill="#d649e2"/><ellipse cx="322.2" cy="396.1" rx="3.4" ry="4.8" transform="rotate(83 322.2 396.1)" fill="#23566e"/><ellipse cx="309.4" cy="403.3" rx="2.3" ry="4.6" transform="rotate(97 309.4 403.3)" fill="#23566e"/><ellipse cx="333.3" cy="401.8" rx="2.1" ry="4.6" transform="rotate(73 333.3 401.8)" fill="#23566e"/><ellipse cx="280.9" cy="390.7" rx="2.4" ry="4.6" transform="rotate(127 280.9 390.7)" fill="#23566e"/><ellipse cx="267.5" cy="318.9" rx="3.1" ry="4.8" transform="rotate(-156 267.5 318.9)" fill="#23566e"/>
  </g>
  <circle cx="314.6" cy="343.4" r="30.6" fill="#cbcda6" opacity="0.72"/>
  <circle cx="314.6" cy="343.4" r="25.8" fill="url(#p2core)"/>
  <g clip-path="url(#p2coreclip)" filter="url(#coreblur)">
    <g stroke="#ffe9b0" stroke-width="1.6" opacity="0.4" stroke-linecap="round">
      <path d="M314 343 l-10 -7 M314 343 l8 -10 M314 343 l12 4 M314 343 l-5 12 M314 343 l-12 4 M314 343 l2 -13 M314 343 l6 11"/>
    </g>
    <circle cx="314" cy="343" r="4" fill="#fbe7b0" opacity="0.8"/>
  </g>
  <path d="M339.4 356.6 L377 374.6" stroke="#3b4a55" stroke-width="0.9"/>
</g>

<!-- INSET -->

<g filter="url(#soft2)">
  <path d="M362.4 306.4 L391 273" stroke="#555" stroke-width="0.9"/>
  <path d="M373 321 H417" stroke="#7d7d7d" stroke-width="1.2"/>
  <circle cx="419.4" cy="289.6" r="31.8" fill="#1e4a6c"/>
  <g transform="translate(419.8 0) scale(1.1 1) translate(-419.8 0)"><polygon points="408.6,275.6 416.1,272.5 422.6,269.5 430.1,270.5 431.0,281.7 430.1,292.8 431.0,307.1 422.6,310.1 412.3,308.1 411.4,296.9 407.6,288.8" fill="#d052da"/><circle cx="408.0" cy="275.4" r="2.5" fill="#d052da"/><circle cx="415.5" cy="272.0" r="3.5" fill="#d052da"/><circle cx="423.0" cy="269.0" r="2.8" fill="#d052da"/><circle cx="430.3" cy="270.0" r="3.5" fill="#d052da"/><circle cx="430.5" cy="276.0" r="3.3" fill="#d052da"/><circle cx="430.5" cy="281.0" r="3.9" fill="#d052da"/><circle cx="430.4" cy="286.8" r="3.8" fill="#d052da"/><circle cx="429.9" cy="293.5" r="3.0" fill="#d052da"/><circle cx="430.2" cy="300.1" r="2.8" fill="#d052da"/><circle cx="431.7" cy="307.5" r="3.3" fill="#d052da"/><circle cx="422.2" cy="310.6" r="3.0" fill="#d052da"/><circle cx="416.8" cy="309.4" r="3.9" fill="#d052da"/><circle cx="412.5" cy="307.7" r="3.7" fill="#d052da"/><circle cx="412.2" cy="302.1" r="3.6" fill="#d052da"/><circle cx="411.0" cy="296.3" r="3.4" fill="#d052da"/><circle cx="407.4" cy="288.6" r="3.0" fill="#d052da"/><circle cx="408.6" cy="282.8" r="3.4" fill="#d052da"/></g>
  <polygon points="414.5,290.5 419.5,284.5 424.5,292.5 419,291.5" fill="#f6dcf4"/>
</g>

<!-- PARTICLE3 -->

<g filter="url(#soft2)">
  <ellipse cx="762" cy="368.6" rx="81.7" ry="80.3" fill="#c5e0b4"/>
  <circle cx="759.7" cy="371.5" r="42.6" fill="#78948f"/>
  <circle cx="759.7" cy="371.5" r="40.6" fill="#527c97"/>
  <g filter="url(#soft2)"><circle cx="724.3" cy="354.8" r="2.0" fill="#2d5978"/><circle cx="724.3" cy="365.8" r="2.0" fill="#2d5978"/><circle cx="721.1" cy="371.3" r="2.0" fill="#2d5978"/><circle cx="724.3" cy="376.8" r="2.0" fill="#2d5978"/><circle cx="724.3" cy="387.8" r="2.0" fill="#2d5978"/><circle cx="727.5" cy="349.3" r="2.0" fill="#2d5978"/><circle cx="730.7" cy="354.8" r="2.0" fill="#2d5978"/><circle cx="727.5" cy="360.3" r="2.0" fill="#2d5978"/><circle cx="730.7" cy="365.8" r="2.0" fill="#2d5978"/><circle cx="727.5" cy="371.3" r="2.0" fill="#2d5978"/><circle cx="730.7" cy="376.8" r="2.0" fill="#2d5978"/><circle cx="727.5" cy="382.3" r="2.0" fill="#2d5978"/><circle cx="730.7" cy="387.8" r="2.0" fill="#2d5978"/><circle cx="727.5" cy="393.3" r="2.0" fill="#2d5978"/><circle cx="737.1" cy="343.8" r="2.0" fill="#2d5978"/><circle cx="733.9" cy="349.3" r="2.0" fill="#2d5978"/><circle cx="737.1" cy="354.8" r="2.0" fill="#2d5978"/><circle cx="733.9" cy="360.3" r="2.0" fill="#2d5978"/><circle cx="737.1" cy="365.8" r="2.0" fill="#2d5978"/><circle cx="733.9" cy="371.3" r="2.0" fill="#2d5978"/><circle cx="737.1" cy="376.8" r="2.0" fill="#2d5978"/><circle cx="733.9" cy="382.3" r="2.0" fill="#2d5978"/><circle cx="737.1" cy="387.8" r="2.0" fill="#2d5978"/><circle cx="733.9" cy="393.3" r="2.0" fill="#2d5978"/><circle cx="737.1" cy="398.8" r="2.0" fill="#2d5978"/><circle cx="740.3" cy="338.3" r="2.0" fill="#2d5978"/><circle cx="743.5" cy="343.8" r="2.0" fill="#2d5978"/><circle cx="740.3" cy="349.3" r="2.0" fill="#2d5978"/><circle cx="743.5" cy="354.8" r="2.0" fill="#2d5978"/><circle cx="740.3" cy="360.3" r="2.0" fill="#2d5978"/><circle cx="740.3" cy="382.3" r="2.0" fill="#2d5978"/><circle cx="743.5" cy="387.8" r="2.0" fill="#2d5978"/><circle cx="740.3" cy="393.3" r="2.0" fill="#2d5978"/><circle cx="743.5" cy="398.8" r="2.0" fill="#2d5978"/><circle cx="740.3" cy="404.3" r="2.0" fill="#2d5978"/><circle cx="746.7" cy="338.3" r="2.0" fill="#2d5978"/><circle cx="749.9" cy="343.8" r="2.0" fill="#2d5978"/><circle cx="746.7" cy="349.3" r="2.0" fill="#2d5978"/><circle cx="746.7" cy="393.3" r="2.0" fill="#2d5978"/><circle cx="749.9" cy="398.8" r="2.0" fill="#2d5978"/><circle cx="746.7" cy="404.3" r="2.0" fill="#2d5978"/><circle cx="756.3" cy="332.8" r="2.0" fill="#2d5978"/><circle cx="753.1" cy="338.3" r="2.0" fill="#2d5978"/><circle cx="756.3" cy="343.8" r="2.0" fill="#2d5978"/><circle cx="753.1" cy="349.3" r="2.0" fill="#2d5978"/><circle cx="753.1" cy="393.3" r="2.0" fill="#2d5978"/><circle cx="756.3" cy="398.8" r="2.0" fill="#2d5978"/><circle cx="753.1" cy="404.3" r="2.0" fill="#2d5978"/><circle cx="756.3" cy="409.8" r="2.0" fill="#2d5978"/><circle cx="762.7" cy="332.8" r="2.0" fill="#2d5978"/><circle cx="759.5" cy="338.3" r="2.0" fill="#2d5978"/><circle cx="762.7" cy="343.8" r="2.0" fill="#2d5978"/><circle cx="759.5" cy="349.3" r="2.0" fill="#2d5978"/><circle cx="759.5" cy="393.3" r="2.0" fill="#2d5978"/><circle cx="762.7" cy="398.8" r="2.0" fill="#2d5978"/><circle cx="759.5" cy="404.3" r="2.0" fill="#2d5978"/><circle cx="762.7" cy="409.8" r="2.0" fill="#2d5978"/><circle cx="765.9" cy="338.3" r="2.0" fill="#2d5978"/><circle cx="769.1" cy="343.8" r="2.0" fill="#2d5978"/><circle cx="765.9" cy="349.3" r="2.0" fill="#2d5978"/><circle cx="765.9" cy="393.3" r="2.0" fill="#2d5978"/><circle cx="769.1" cy="398.8" r="2.0" fill="#2d5978"/><circle cx="765.9" cy="404.3" r="2.0" fill="#2d5978"/><circle cx="769.1" cy="409.8" r="2.0" fill="#2d5978"/><circle cx="772.3" cy="338.3" r="2.0" fill="#2d5978"/><circle cx="775.5" cy="343.8" r="2.0" fill="#2d5978"/><circle cx="772.3" cy="349.3" r="2.0" fill="#2d5978"/><circle cx="775.5" cy="354.8" r="2.0" fill="#2d5978"/><circle cx="775.5" cy="387.8" r="2.0" fill="#2d5978"/><circle cx="772.3" cy="393.3" r="2.0" fill="#2d5978"/><circle cx="775.5" cy="398.8" r="2.0" fill="#2d5978"/><circle cx="772.3" cy="404.3" r="2.0" fill="#2d5978"/><circle cx="778.7" cy="338.3" r="2.0" fill="#2d5978"/><circle cx="781.9" cy="343.8" r="2.0" fill="#2d5978"/><circle cx="778.7" cy="349.3" r="2.0" fill="#2d5978"/><circle cx="781.9" cy="354.8" r="2.0" fill="#2d5978"/><circle cx="778.7" cy="360.3" r="2.0" fill="#2d5978"/><circle cx="781.9" cy="365.8" r="2.0" fill="#2d5978"/><circle cx="781.9" cy="376.8" r="2.0" fill="#2d5978"/><circle cx="778.7" cy="382.3" r="2.0" fill="#2d5978"/><circle cx="781.9" cy="387.8" r="2.0" fill="#2d5978"/><circle cx="778.7" cy="393.3" r="2.0" fill="#2d5978"/><circle cx="781.9" cy="398.8" r="2.0" fill="#2d5978"/><circle cx="778.7" cy="404.3" r="2.0" fill="#2d5978"/><circle cx="785.1" cy="349.3" r="2.0" fill="#2d5978"/><circle cx="788.3" cy="354.8" r="2.0" fill="#2d5978"/><circle cx="785.1" cy="360.3" r="2.0" fill="#2d5978"/><circle cx="788.3" cy="365.8" r="2.0" fill="#2d5978"/><circle cx="785.1" cy="371.3" r="2.0" fill="#2d5978"/><circle cx="788.3" cy="376.8" r="2.0" fill="#2d5978"/><circle cx="785.1" cy="382.3" r="2.0" fill="#2d5978"/><circle cx="788.3" cy="387.8" r="2.0" fill="#2d5978"/><circle cx="785.1" cy="393.3" r="2.0" fill="#2d5978"/><circle cx="791.5" cy="349.3" r="2.0" fill="#2d5978"/><circle cx="794.7" cy="354.8" r="2.0" fill="#2d5978"/><circle cx="791.5" cy="360.3" r="2.0" fill="#2d5978"/><circle cx="794.7" cy="365.8" r="2.0" fill="#2d5978"/><circle cx="791.5" cy="371.3" r="2.0" fill="#2d5978"/><circle cx="794.7" cy="376.8" r="2.0" fill="#2d5978"/><circle cx="791.5" cy="382.3" r="2.0" fill="#2d5978"/><circle cx="794.7" cy="387.8" r="2.0" fill="#2d5978"/><circle cx="791.5" cy="393.3" r="2.0" fill="#2d5978"/><circle cx="797.9" cy="371.3" r="2.0" fill="#2d5978"/></g>
  <circle cx="758.9" cy="371" r="20.4" fill="#7c7a66"/>
  <circle cx="758.9" cy="371" r="18.6" fill="url(#p3core)"/>
  <g clip-path="url(#p3coreclip)" filter="url(#coreblur)">
    <ellipse cx="761.3" cy="387.2" rx="4.1" ry="2.2" transform="rotate(172 761.3 387.2)" fill="#7a2a0c" opacity="0.55"/><ellipse cx="768.9" cy="381.2" rx="4.1" ry="2.2" transform="rotate(135 768.9 381.2)" fill="#7a2a0c" opacity="0.55"/><ellipse cx="767.9" cy="376.3" rx="4.1" ry="2.2" transform="rotate(121 767.9 376.3)" fill="#7a2a0c" opacity="0.55"/><ellipse cx="769.0" cy="370.9" rx="4.1" ry="2.2" transform="rotate(450 769.0 370.9)" fill="#7a2a0c" opacity="0.55"/><ellipse cx="751.2" cy="361.5" rx="4.1" ry="2.2" transform="rotate(321 751.2 361.5)" fill="#7a2a0c" opacity="0.55"/><ellipse cx="746.9" cy="374.6" rx="4.1" ry="2.2" transform="rotate(253 746.9 374.6)" fill="#7a2a0c" opacity="0.55"/><ellipse cx="769.1" cy="358.2" rx="3.7" ry="1.7" transform="rotate(39 769.1 358.2)" fill="#f6b060" opacity="0.75"/><ellipse cx="770.7" cy="361.7" rx="3.7" ry="1.7" transform="rotate(52 770.7 361.7)" fill="#f6b060" opacity="0.75"/><ellipse cx="772.0" cy="363.6" rx="3.7" ry="1.7" transform="rotate(60 772.0 363.6)" fill="#f6b060" opacity="0.75"/>
    <g stroke="#ffe0a0" stroke-width="1.5" opacity="0.6" stroke-linecap="round">
      <path d="M759 370 l-8 -5 M759 370 l6 -8 M759 370 l9 2 M759 370 l-3 9 M759 370 l-9 3 M759 370 l1 -10 M759 370 l5 8"/>
    </g>
    <circle cx="759" cy="370" r="3.6" fill="#fff6dc"/>
  </g>
  <ellipse cx="733.2" cy="319" rx="9.8" ry="11.6" fill="#fdf9fd"/><g transform="translate(732.6 318.1) scale(1.2 1) translate(-732.6 -318.1)"><polygon points="727.9,312.4 731.0,311.2 733.8,310.0 736.9,310.4 737.3,314.9 736.9,319.3 737.3,325.0 733.8,326.2 729.5,325.4 729.1,320.9 727.5,317.7" fill="#d626d8"/><circle cx="728.0" cy="312.6" r="1.4" fill="#d626d8"/><circle cx="730.9" cy="311.3" r="1.3" fill="#d626d8"/><circle cx="734.0" cy="310.1" r="1.3" fill="#d626d8"/><circle cx="736.8" cy="310.7" r="1.0" fill="#d626d8"/><circle cx="737.0" cy="312.9" r="0.9" fill="#d626d8"/><circle cx="737.1" cy="314.8" r="1.1" fill="#d626d8"/><circle cx="737.0" cy="317.1" r="1.4" fill="#d626d8"/><circle cx="737.1" cy="319.3" r="1.2" fill="#d626d8"/><circle cx="737.1" cy="321.9" r="0.9" fill="#d626d8"/><circle cx="737.1" cy="325.1" r="0.9" fill="#d626d8"/><circle cx="733.9" cy="326.0" r="1.0" fill="#d626d8"/><circle cx="731.4" cy="325.9" r="1.0" fill="#d626d8"/><circle cx="729.3" cy="325.2" r="1.3" fill="#d626d8"/><circle cx="729.4" cy="323.0" r="0.9" fill="#d626d8"/><circle cx="729.2" cy="321.0" r="1.0" fill="#d626d8"/><circle cx="727.3" cy="317.8" r="1.1" fill="#d626d8"/><circle cx="727.7" cy="314.9" r="1.2" fill="#d626d8"/></g><polygon points="730.8,318.7 733.2,316.3 734.6,319.7" fill="#f3b0f0"/><ellipse cx="802.8" cy="326.6" rx="9.8" ry="11.6" fill="#fdf9fd"/><g transform="translate(802.1999999999999 325.70000000000005) scale(1.2 1) translate(-802.1999999999999 -325.70000000000005)"><polygon points="797.5,320.0 800.6,318.8 803.4,317.6 806.5,318.0 806.9,322.5 806.5,326.9 806.9,332.6 803.4,333.8 799.1,333.0 798.7,328.5 797.1,325.3" fill="#d626d8"/><circle cx="797.6" cy="320.1" r="1.0" fill="#d626d8"/><circle cx="800.5" cy="319.0" r="1.1" fill="#d626d8"/><circle cx="803.4" cy="317.6" r="1.3" fill="#d626d8"/><circle cx="806.2" cy="318.0" r="1.0" fill="#d626d8"/><circle cx="806.5" cy="320.4" r="1.2" fill="#d626d8"/><circle cx="806.7" cy="322.2" r="1.0" fill="#d626d8"/><circle cx="806.8" cy="324.9" r="1.4" fill="#d626d8"/><circle cx="806.3" cy="326.8" r="1.2" fill="#d626d8"/><circle cx="806.5" cy="330.0" r="1.1" fill="#d626d8"/><circle cx="806.7" cy="332.7" r="1.1" fill="#d626d8"/><circle cx="803.6" cy="333.8" r="1.0" fill="#d626d8"/><circle cx="801.1" cy="333.4" r="1.2" fill="#d626d8"/><circle cx="798.8" cy="333.2" r="1.0" fill="#d626d8"/><circle cx="799.0" cy="330.6" r="1.0" fill="#d626d8"/><circle cx="798.9" cy="328.7" r="1.4" fill="#d626d8"/><circle cx="797.2" cy="325.4" r="1.3" fill="#d626d8"/><circle cx="797.3" cy="322.8" r="1.0" fill="#d626d8"/></g><polygon points="800.4,326.3 802.8,323.9 804.2,327.3" fill="#f3b0f0"/><ellipse cx="818.9" cy="371.6" rx="9.8" ry="11.6" fill="#fdf9fd"/><g transform="translate(818.3 370.70000000000005) scale(1.2 1) translate(-818.3 -370.70000000000005)"><polygon points="813.6,365.0 816.7,363.8 819.5,362.6 822.6,363.0 823.0,367.5 822.6,371.9 823.0,377.6 819.5,378.8 815.2,378.0 814.8,373.5 813.2,370.3" fill="#d626d8"/><circle cx="813.4" cy="364.8" r="1.4" fill="#d626d8"/><circle cx="816.6" cy="363.6" r="1.4" fill="#d626d8"/><circle cx="819.4" cy="362.8" r="1.2" fill="#d626d8"/><circle cx="822.8" cy="362.9" r="1.0" fill="#d626d8"/><circle cx="823.0" cy="365.3" r="1.2" fill="#d626d8"/><circle cx="823.1" cy="367.2" r="1.4" fill="#d626d8"/><circle cx="822.8" cy="369.6" r="1.3" fill="#d626d8"/><circle cx="822.8" cy="372.0" r="1.0" fill="#d626d8"/><circle cx="822.9" cy="375.0" r="1.4" fill="#d626d8"/><circle cx="823.1" cy="377.6" r="1.2" fill="#d626d8"/><circle cx="819.7" cy="378.7" r="1.0" fill="#d626d8"/><circle cx="817.6" cy="378.5" r="1.3" fill="#d626d8"/><circle cx="815.3" cy="378.1" r="1.0" fill="#d626d8"/><circle cx="814.7" cy="375.8" r="1.0" fill="#d626d8"/><circle cx="815.0" cy="373.5" r="0.9" fill="#d626d8"/><circle cx="813.2" cy="370.4" r="1.2" fill="#d626d8"/><circle cx="813.3" cy="367.6" r="1.4" fill="#d626d8"/></g><polygon points="816.5,371.3 818.9,368.9 820.3,372.3" fill="#f3b0f0"/><ellipse cx="803.7" cy="413.1" rx="9.8" ry="11.6" fill="#fdf9fd"/><g transform="translate(803.1 412.20000000000005) scale(1.2 1) translate(-803.1 -412.20000000000005)"><polygon points="798.4,406.5 801.5,405.3 804.3,404.1 807.4,404.5 807.8,409.0 807.4,413.4 807.8,419.1 804.3,420.3 800.0,419.5 799.6,415.0 798.0,411.8" fill="#d626d8"/><circle cx="798.6" cy="406.7" r="1.4" fill="#d626d8"/><circle cx="801.6" cy="405.3" r="0.9" fill="#d626d8"/><circle cx="804.1" cy="404.0" r="1.2" fill="#d626d8"/><circle cx="807.2" cy="404.5" r="1.1" fill="#d626d8"/><circle cx="807.4" cy="406.9" r="0.9" fill="#d626d8"/><circle cx="807.8" cy="409.1" r="1.1" fill="#d626d8"/><circle cx="807.4" cy="411.3" r="1.1" fill="#d626d8"/><circle cx="807.5" cy="413.5" r="1.2" fill="#d626d8"/><circle cx="807.5" cy="416.4" r="1.4" fill="#d626d8"/><circle cx="807.8" cy="419.2" r="1.1" fill="#d626d8"/><circle cx="804.1" cy="420.3" r="1.1" fill="#d626d8"/><circle cx="802.2" cy="419.9" r="1.3" fill="#d626d8"/><circle cx="799.8" cy="419.3" r="1.2" fill="#d626d8"/><circle cx="799.9" cy="417.1" r="1.1" fill="#d626d8"/><circle cx="799.4" cy="414.8" r="1.0" fill="#d626d8"/><circle cx="798.1" cy="412.0" r="1.0" fill="#d626d8"/><circle cx="798.2" cy="409.1" r="1.1" fill="#d626d8"/></g><polygon points="801.3,412.8 803.7,410.4 805.1,413.8" fill="#f3b0f0"/><ellipse cx="726.9" cy="420.9" rx="9.8" ry="11.6" fill="#fdf9fd"/><g transform="translate(726.3 420.0) scale(1.2 1) translate(-726.3 -420.0)"><polygon points="721.6,414.3 724.7,413.1 727.5,411.9 730.6,412.3 731.0,416.8 730.6,421.2 731.0,426.9 727.5,428.1 723.2,427.3 722.8,422.8 721.2,419.6" fill="#d626d8"/><circle cx="721.8" cy="414.2" r="1.3" fill="#d626d8"/><circle cx="724.6" cy="413.2" r="1.4" fill="#d626d8"/><circle cx="727.6" cy="411.7" r="0.9" fill="#d626d8"/><circle cx="730.7" cy="412.5" r="1.2" fill="#d626d8"/><circle cx="731.0" cy="414.8" r="1.1" fill="#d626d8"/><circle cx="731.0" cy="417.0" r="1.0" fill="#d626d8"/><circle cx="730.8" cy="418.9" r="1.3" fill="#d626d8"/><circle cx="730.4" cy="421.3" r="1.4" fill="#d626d8"/><circle cx="730.6" cy="424.0" r="1.3" fill="#d626d8"/><circle cx="731.0" cy="426.8" r="1.0" fill="#d626d8"/><circle cx="727.7" cy="428.0" r="1.3" fill="#d626d8"/><circle cx="725.1" cy="427.5" r="1.3" fill="#d626d8"/><circle cx="723.3" cy="427.4" r="1.2" fill="#d626d8"/><circle cx="723.2" cy="424.9" r="1.4" fill="#d626d8"/><circle cx="723.0" cy="422.6" r="1.3" fill="#d626d8"/><circle cx="721.0" cy="419.4" r="1.1" fill="#d626d8"/><circle cx="721.5" cy="417.2" r="1.1" fill="#d626d8"/></g><polygon points="724.5,420.6 726.9,418.2 728.3,421.6" fill="#f3b0f0"/><ellipse cx="697.9" cy="373.9" rx="9.8" ry="11.6" fill="#fdf9fd"/><g transform="translate(697.3 373.0) scale(1.2 1) translate(-697.3 -373.0)"><polygon points="692.6,367.3 695.7,366.1 698.5,364.9 701.6,365.3 702.0,369.8 701.6,374.2 702.0,379.9 698.5,381.1 694.2,380.3 693.8,375.8 692.2,372.6" fill="#d626d8"/><circle cx="692.8" cy="367.5" r="1.1" fill="#d626d8"/><circle cx="695.9" cy="366.2" r="1.0" fill="#d626d8"/><circle cx="698.7" cy="364.8" r="0.9" fill="#d626d8"/><circle cx="701.6" cy="365.4" r="1.0" fill="#d626d8"/><circle cx="701.9" cy="367.7" r="1.0" fill="#d626d8"/><circle cx="702.1" cy="369.8" r="1.2" fill="#d626d8"/><circle cx="701.6" cy="371.9" r="1.3" fill="#d626d8"/><circle cx="701.4" cy="374.5" r="1.1" fill="#d626d8"/><circle cx="701.6" cy="377.1" r="1.2" fill="#d626d8"/><circle cx="701.8" cy="379.7" r="1.1" fill="#d626d8"/><circle cx="698.2" cy="381.1" r="1.1" fill="#d626d8"/><circle cx="696.1" cy="380.9" r="1.2" fill="#d626d8"/><circle cx="694.0" cy="380.4" r="0.9" fill="#d626d8"/><circle cx="693.9" cy="378.1" r="1.0" fill="#d626d8"/><circle cx="693.8" cy="375.8" r="1.1" fill="#d626d8"/><circle cx="692.0" cy="372.8" r="1.1" fill="#d626d8"/><circle cx="692.2" cy="369.9" r="1.0" fill="#d626d8"/></g><polygon points="695.5,373.6 697.9,371.2 699.3,374.6" fill="#f3b0f0"/>
</g>

<!-- TEM -->

<g clip-path="url(#temclip)">
  <rect x="499" y="12" width="136" height="172" fill="#cdcdcd"/>
  <g filter="url(#temblur)">
    <circle cx="520" cy="-30" r="67" fill="#999"/>
    <circle cx="520" cy="-30" r="69.5" fill="none" stroke="#e4e4e4" stroke-width="2.2"/>
    <circle cx="484" cy="72" r="39.5" fill="#8f8f8f"/>
    <circle cx="484" cy="72" r="41.5" fill="none" stroke="#e2e2e2" stroke-width="2"/>
    <circle cx="527.5" cy="39" r="2.6" fill="#dedede"/>
    <path d="M563.4 29.5 C568.6 29.6 576.5 29.7 582.0 31.0 C587.5 32.3 592.7 34.5 596.4 37.2 C600.1 39.9 602.1 43.4 604.0 47.0 C605.9 50.6 607.0 54.9 607.8 58.7 C608.6 62.5 608.5 66.2 609.0 70.0 C609.5 73.8 610.9 77.8 610.8 81.5 C610.7 85.2 609.6 88.6 608.5 92.0 C607.4 95.4 605.8 98.5 604.0 101.8 C602.2 105.1 600.5 108.8 598.0 112.0 C595.5 115.2 592.3 118.4 588.8 120.8 C585.3 123.2 581.2 125.0 577.0 126.5 C572.8 128.0 568.2 129.2 563.4 129.5 C558.6 129.8 552.6 129.2 548.0 128.0 C543.4 126.8 539.3 124.6 535.6 122.3 C531.9 120.0 528.5 117.0 526.0 114.0 C523.5 111.0 521.8 108.1 520.3 104.3 C518.8 100.5 517.6 95.7 517.0 91.0 C516.4 86.3 516.3 81.1 516.5 76.4 C516.7 71.7 516.9 67.2 518.0 63.0 C519.1 58.8 520.9 54.6 522.9 51.0 C524.9 47.4 527.2 44.2 530.0 41.5 C532.8 38.8 535.9 36.4 539.4 34.6 C542.9 32.8 547.0 31.4 551.0 30.5 C555.0 29.6 558.2 29.4 563.4 29.5 Z" fill="#878787"/>
    <path d="M597.9 35.3 C599.2 37.0 603.8 41.8 605.8 45.5 C607.8 49.3 608.9 53.8 609.8 57.8 C610.6 61.8 610.5 65.6 611.0 69.6 C611.5 73.5 613.0 77.8 612.9 81.6 C612.8 85.4 611.7 89.0 610.5 92.6 C609.3 96.1 607.6 99.3 605.8 102.8 C604.0 106.3 602.2 110.2 599.5 113.5 C596.9 116.8 593.6 120.1 589.9 122.7 C586.3 125.2 582.0 127.1 577.6 128.6 C573.2 130.1 568.4 131.5 563.4 131.8 C558.3 132.0 552.1 131.4 547.3 130.2 C542.4 128.9 538.2 126.7 534.3 124.2 C530.5 121.8 527.0 118.7 524.3 115.6 C521.6 112.4 519.9 109.4 518.3 105.4 C516.8 101.4 515.5 93.8 514.9 91.5" fill="none" stroke="#f2f2f2" stroke-width="2.6" stroke-linecap="round"/>
    <path d="M517.5 62 Q514.5 78 518.5 95" fill="none" stroke="#6f6f6f" stroke-width="3" opacity="0.6"/>
  </g>
  <g filter="url(#tnb)">
    <rect x="499" y="12" width="136" height="172" filter="url(#temW)"/>
    <rect x="499" y="12" width="136" height="172" filter="url(#temD)"/>
    <g clip-path="url(#temmainclip)"><rect x="499" y="12" width="136" height="172" filter="url(#temW2)"/></g>
  </g>
  <ellipse cx="566.7" cy="76.6" rx="10.2" ry="10.6" fill="#080808" filter="url(#soft2)"/>
  <rect x="511" y="165" width="92.5" height="2.2" fill="#111" filter="url(#soft)"/>
  <text x="531.7" y="156.8" font-size="12.8" fill="#222" textLength="48" lengthAdjust="spacing" filter="url(#soft)">100 nm</text>
</g>
<clipPath id="temmainclip"><path d="M563.4 29.5 C568.6 29.6 576.5 29.7 582.0 31.0 C587.5 32.3 592.7 34.5 596.4 37.2 C600.1 39.9 602.1 43.4 604.0 47.0 C605.9 50.6 607.0 54.9 607.8 58.7 C608.6 62.5 608.5 66.2 609.0 70.0 C609.5 73.8 610.9 77.8 610.8 81.5 C610.7 85.2 609.6 88.6 608.5 92.0 C607.4 95.4 605.8 98.5 604.0 101.8 C602.2 105.1 600.5 108.8 598.0 112.0 C595.5 115.2 592.3 118.4 588.8 120.8 C585.3 123.2 581.2 125.0 577.0 126.5 C572.8 128.0 568.2 129.2 563.4 129.5 C558.6 129.8 552.6 129.2 548.0 128.0 C543.4 126.8 539.3 124.6 535.6 122.3 C531.9 120.0 528.5 117.0 526.0 114.0 C523.5 111.0 521.8 108.1 520.3 104.3 C518.8 100.5 517.6 95.7 517.0 91.0 C516.4 86.3 516.3 81.1 516.5 76.4 C516.7 71.7 516.9 67.2 518.0 63.0 C519.1 58.8 520.9 54.6 522.9 51.0 C524.9 47.4 527.2 44.2 530.0 41.5 C532.8 38.8 535.9 36.4 539.4 34.6 C542.9 32.8 547.0 31.4 551.0 30.5 C555.0 29.6 558.2 29.4 563.4 29.5 Z"/><circle cx="520" cy="-30" r="67"/><circle cx="484" cy="72" r="39.5"/></clipPath>

<!-- AFM -->

<g clip-path="url(#afmclip)">
  <rect x="647.5" y="12.5" width="137" height="171" fill="#090300"/>
  <g filter="url(#afmblur)"><ellipse cx="696" cy="158" rx="71" ry="65.5" fill="url(#afmg2)"/></g>
  <g mask="url(#afmmask2)">
    <rect x="647.5" y="12.5" width="137" height="171" filter="url(#afmtex)" opacity="0.4"/>
    <rect x="647.5" y="12.5" width="137" height="171" filter="url(#afmtexD)" opacity="0.4"/>
  </g>
  <g filter="url(#afmblur)"><ellipse cx="732.5" cy="67.5" rx="63.5" ry="63" fill="url(#afmg1)"/></g>
  <g mask="url(#afmmask1)">
    <rect x="647.5" y="12.5" width="137" height="171" filter="url(#afmtex)" opacity="0.4"/>
    <rect x="647.5" y="12.5" width="137" height="171" filter="url(#afmtexD)" opacity="0.4"/>
  </g>
  <rect x="751" y="164" width="25.6" height="10.4" fill="#fff"/>
  <text x="754" y="173.3" font-size="9.5" fill="#111" textLength="20.5" lengthAdjust="spacingAndGlyphs">20 nm</text>
  <path d="M747 178.5 H781.3 M747.6 176 v5 M780.7 176 v5" stroke="#fff" stroke-width="1.4" fill="none"/>
</g>
<rect x="794" y="12.5" width="20" height="171" fill="#efefef"/>
<rect x="788.8" y="12.5" width="5.6" height="171" fill="url(#cbar)"/>
<g filter="url(#soft)"><path d="M794.4 15.0 h2.2" stroke="#444" stroke-width="0.7"/><text x="797.6" y="17.2" font-size="5.6" fill="#2a2a2a">350</text><path d="M794.4 31.7 h2.2" stroke="#444" stroke-width="0.7"/><text x="797.6" y="33.9" font-size="5.6" fill="#2a2a2a">340</text><path d="M794.4 48.4 h2.2" stroke="#444" stroke-width="0.7"/><text x="797.6" y="50.6" font-size="5.6" fill="#2a2a2a">330</text><path d="M794.4 65.1 h2.2" stroke="#444" stroke-width="0.7"/><text x="797.6" y="67.3" font-size="5.6" fill="#2a2a2a">320</text><path d="M794.4 81.8 h2.2" stroke="#444" stroke-width="0.7"/><text x="797.6" y="84.0" font-size="5.6" fill="#2a2a2a">310</text><path d="M794.4 98.5 h2.2" stroke="#444" stroke-width="0.7"/><text x="797.6" y="100.7" font-size="5.6" fill="#2a2a2a">300</text><path d="M794.4 115.2 h2.2" stroke="#444" stroke-width="0.7"/><text x="797.6" y="117.4" font-size="5.6" fill="#2a2a2a">290</text><path d="M794.4 131.9 h2.2" stroke="#444" stroke-width="0.7"/><text x="797.6" y="134.1" font-size="5.6" fill="#2a2a2a">280</text><path d="M794.4 148.6 h2.2" stroke="#444" stroke-width="0.7"/><text x="797.6" y="150.8" font-size="5.6" fill="#2a2a2a">270</text><path d="M794.4 165.3 h2.2" stroke="#444" stroke-width="0.7"/><text x="797.6" y="167.5" font-size="5.6" fill="#2a2a2a">260</text><path d="M794.4 182.0 h2.2" stroke="#444" stroke-width="0.7"/><text x="797.6" y="184.2" font-size="5.6" fill="#2a2a2a">250</text></g>

</svg>
</body>
</html>
